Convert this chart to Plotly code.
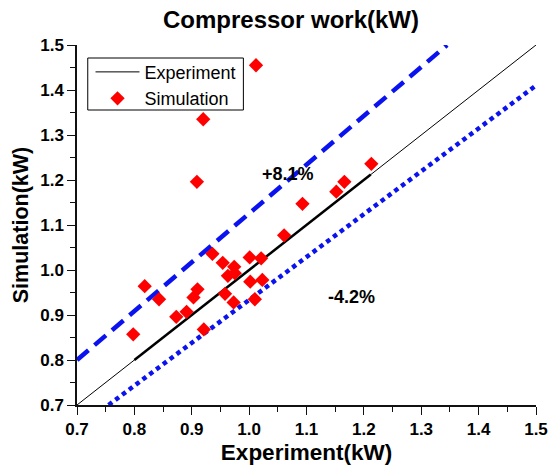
import plotly.graph_objects as go

# Measured vs simulated compressor work (kW)
exp_kw = [1.012, 0.920, 0.909, 1.213, 1.166, 1.152, 1.093, 1.061, 0.936, 0.954,
          0.974, 0.963, 0.975, 1.001, 1.021, 1.002, 1.023, 1.010, 0.958, 0.973,
          0.910, 0.903, 0.818, 0.843, 0.873, 0.891, 0.921, 0.798]
sim_kw = [1.455, 1.335, 1.196, 1.236, 1.196, 1.174, 1.147, 1.077, 1.036, 1.016,
          1.007, 0.987, 0.993, 1.028, 1.026, 0.974, 0.978, 0.935, 0.947, 0.928,
          0.957, 0.939, 0.964, 0.935, 0.896, 0.907, 0.868, 0.857]

# Reference line y = x and the error bounds
diag_x = [0.7, 1.5]
diag_y = [0.7, 1.5]
fit_x = [0.8, 1.212]
fit_y = [0.8, 1.212]
upper_x = [0.7, 1.345]
upper_y = [0.80, 1.5]
lower_x = [0.755, 1.5]
lower_y = [0.70, 1.41]

tick_vals = [0.7, 0.8, 0.9, 1.0, 1.1, 1.2, 1.3, 1.4, 1.5]
tick_text = ["<b>%.1f</b>" % v for v in tick_vals]

FONT = "Arial, Liberation Sans, sans-serif"
BLUE = "#0a12f0"
RED = "#ff0000"

fig = go.Figure()
fig.add_trace(go.Scatter(x=diag_x, y=diag_y, mode="lines", name="Experiment",
                         line=dict(color="black", width=1)))
fig.add_trace(go.Scatter(x=fit_x, y=fit_y, mode="lines", showlegend=False,
                         line=dict(color="black", width=2.5)))
fig.add_trace(go.Scatter(x=upper_x, y=upper_y, mode="lines", showlegend=False,
                         line=dict(color=BLUE, width=4.5, dash="15px,8px")))
fig.add_trace(go.Scatter(x=lower_x, y=lower_y, mode="lines", showlegend=False,
                         line=dict(color=BLUE, width=4.5, dash="4.5px,4px")))
fig.add_trace(go.Scatter(x=exp_kw, y=sim_kw, mode="markers", name="Simulation",
                         marker=dict(symbol="diamond", size=11, color=RED,
                                     line=dict(width=0))))

axis_common = dict(range=[0.7, 1.5], tickvals=tick_vals, ticktext=tick_text,
                   showline=True, linecolor="#111", linewidth=1.5,
                   ticks="outside", ticklen=8, tickwidth=1.2, tickcolor="#111",
                   showgrid=False, zeroline=False,
                   tickfont=dict(family=FONT, size=17, color="black"),
                   minor=dict(dtick=0.05, ticks="outside", ticklen=5,
                              tickwidth=1.2, tickcolor="#111"))

# Plot-area pixel box, used to place the legend frame in paper units
PX_L, PX_R, PX_T, PX_B = 77, 546, 45, 405


def px_to_paper(px, py):
    return (px - PX_L) / (PX_R - PX_L), 1 - (py - PX_T) / (PX_B - PX_T)


lx0, ly0 = px_to_paper(88, 58)
lx1, ly1 = px_to_paper(247, 110)

fig.update_layout(
    width=560, height=473,
    margin=dict(l=77, r=14, t=45, b=68),
    paper_bgcolor="white", plot_bgcolor="white",
    title=dict(text="<b>Compressor work(kW)</b>", x=291 / 560, xanchor="center",
               y=1 - 20 / 473, yanchor="middle",
               font=dict(family=FONT, size=24, color="black")),
    xaxis=dict(**axis_common,
               title=dict(text="<b>Experiment(kW)</b>", standoff=6,
                          font=dict(family=FONT, size=22.5, color="black"))),
    yaxis=dict(**axis_common,
               title=dict(text="<b>Simulation(kW)</b>", standoff=6,
                          font=dict(family=FONT, size=21.5, color="black"))),
    xaxis2=dict(overlaying="x", side="top", anchor="y2", range=[0, 10], dtick=1,
                ticks="inside", ticklen=5, tickwidth=1.2, tickcolor="#111",
                showticklabels=False, showline=True, linecolor="#111",
                linewidth=1.5, showgrid=False, zeroline=False),
    yaxis2=dict(overlaying="y", side="right", anchor="x2", range=[0, 10], dtick=1,
                ticks="inside", ticklen=5, tickwidth=1.2, tickcolor="#111",
                showticklabels=False, showline=True, linecolor="#333",
                linewidth=1.5, showgrid=False, zeroline=False),
    showlegend=True,
    legend=dict(x=lx0 + 0.006, y=ly0 + 0.012, xanchor="left", yanchor="top",
                borderwidth=0, bgcolor="rgba(255,255,255,0)",
                font=dict(family=FONT, size=18, color="black"),
                itemwidth=44, tracegroupgap=0),
    shapes=[dict(type="rect", xref="paper", yref="paper",
                 x0=lx0, y0=ly1, x1=lx1, y1=ly0,
                 line=dict(color="black", width=1), fillcolor="rgba(0,0,0,0)")],
    annotations=[
        dict(x=1.068, y=1.213, xref="x", yref="y", text="<b>+8.1%</b>",
             showarrow=False, font=dict(family=FONT, size=18, color="black")),
        dict(x=1.178, y=0.94, xref="x", yref="y", text="<b>-4.2%</b>",
             showarrow=False, font=dict(family=FONT, size=18, color="black")),
    ],
)

fig.write_html("out.html")
